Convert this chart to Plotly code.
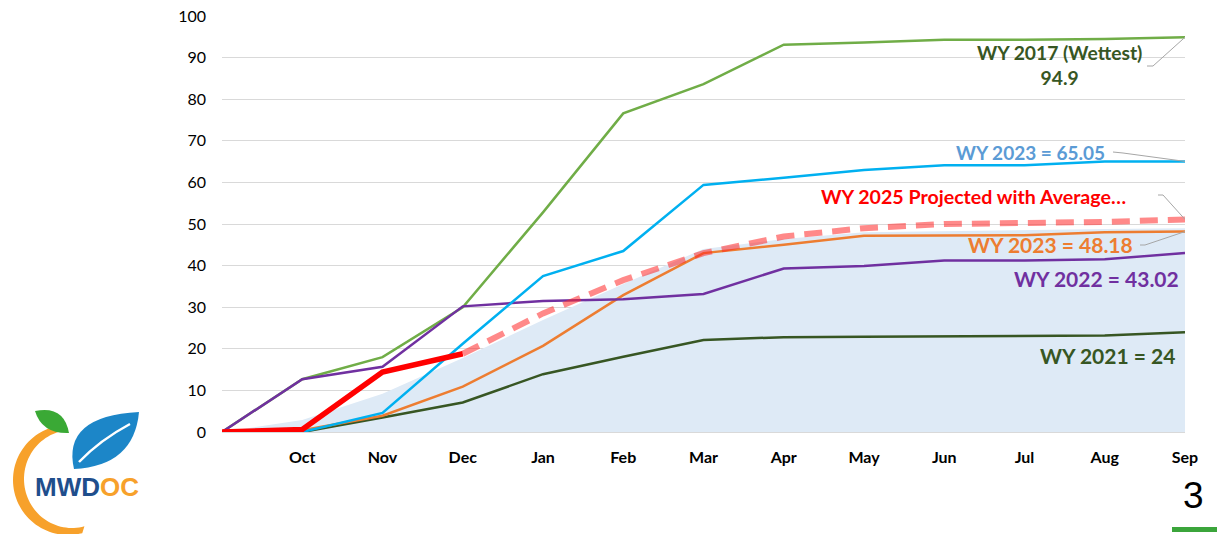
import numpy as np
import plotly.graph_objects as go

# ---------------- data ----------------
months = ["", "Oct", "Nov", "Dec", "Jan", "Feb", "Mar", "Apr", "May", "Jun", "Jul", "Aug", "Sep"]
pos = list(range(len(months)))

avg_area = [0, 2.9, 9.2, 17.8, 26.9, 35.6, 44.0, 46.4, 48.0, 48.3, 48.5, 48.8, 49.0]
wy2021 = [0, 0, 3.5, 7.1, 13.9, 18.1, 22.1, 22.8, 22.9, 23.0, 23.1, 23.2, 24.0]
wy2023b = [0, 0.4, 3.9, 10.9, 20.7, 32.9, 43.0, 45.0, 47.2, 47.2, 47.3, 48.0, 48.18]
wy2022 = [0, 12.7, 15.7, 30.2, 31.5, 31.9, 33.2, 39.3, 39.9, 41.2, 41.2, 41.5, 43.02]
wy2023a = [0, 0, 4.6, 21.2, 37.5, 43.5, 59.4, 61.1, 63.0, 64.1, 64.1, 65.0, 65.05]
wy2017 = [0, 12.7, 18.0, 30.0, 52.8, 76.6, 83.6, 93.1, 93.6, 94.3, 94.3, 94.5, 94.9]
proj_pos = pos[3:]
wy2025_proj = [18.8, 28.5, 36.5, 43.0, 47.0, 49.0, 50.0, 50.2, 50.5, 51.1]
act_pos = pos[:4]
wy2025_act = [0, 0.6, 14.4, 18.8]

yticks = [0, 10, 20, 30, 40, 50, 60, 70, 80, 90, 100]

# ---------------- figure ----------------
fig = go.Figure()
fig.add_trace(go.Scatter(x=pos, y=avg_area, mode="lines", fill="tozeroy",
                         fillcolor="#DEEAF6", line=dict(width=0, color="#DEEAF6"),
                         hoverinfo="skip"))
fig.add_trace(go.Scatter(x=pos, y=wy2021, mode="lines", line=dict(color="#375623", width=2.5)))
fig.add_trace(go.Scatter(x=pos, y=wy2023b, mode="lines", line=dict(color="#ED7D31", width=2.5)))
fig.add_trace(go.Scatter(x=pos, y=wy2017, mode="lines", line=dict(color="#70AD47", width=2.5)))
fig.add_trace(go.Scatter(x=pos, y=wy2022, mode="lines", line=dict(color="#7030A0", width=2.5)))
fig.add_trace(go.Scatter(x=pos, y=wy2023a, mode="lines", line=dict(color="#00B0F0", width=2.5)))
fig.add_trace(go.Scatter(x=proj_pos, y=wy2025_proj, mode="lines",
                         line=dict(color="rgba(255,40,40,0.55)", width=6, dash="18px,10px")))
fig.add_trace(go.Scatter(x=act_pos, y=wy2025_act, mode="lines", line=dict(color="#FF0000", width=5.5)))

LBL = "Lato"
annots = [
    dict(text="<b>WY 2017 (Wettest)<br>94.9</b>", x=10.43, y=88.2, color="#375623", xanchor="center", align="center", size=19.3),
    dict(text="<b>WY 2023 = 65.05</b>", x=11.03, y=67.1, color="#5B9BD5", xanchor="right", align="right", size=19),
    dict(text="<b>WY 2025 Projected with Average…</b>", x=11.29, y=56.7, color="#FF0000", xanchor="right", align="right", size=19.6),
    dict(text="<b>WY 2023 = 48.18</b>", x=11.38, y=45.0, color="#ED7D31", xanchor="right", align="right", size=21),
    dict(text="<b>WY 2022 = 43.02</b>", x=11.95, y=36.8, color="#7030A0", xanchor="right", align="right", size=21),
    dict(text="<b>WY 2021 = 24</b>", x=11.9, y=18.5, color="#375623", xanchor="right", align="right", size=21),
]
for a in annots:
    fig.add_annotation(x=a["x"], y=a["y"], xref="x", yref="y", text=a["text"], showarrow=False,
                       xanchor=a["xanchor"], yanchor="middle", align=a["align"],
                       font=dict(family=LBL, size=a["size"], color=a["color"]))

# leader lines (pixel helpers -> data coords)
def dx(px):
    return (px - 222) / 80.25

def dy(py):
    return (432 - py) / 4.16

last = len(pos) - 1
leaders = [
    [(1147, 66), (1153, 66), (pos[last], wy2017[-1])],
    [(1113, 152), (1123, 153), (pos[last], wy2023a[-1])],
    [(1158, 195), (1163, 195), (pos[last], wy2025_proj[-1])],
    [(1140, 245), (1145, 245), (pos[last], wy2023b[-1])],
]
for pts in leaders:
    (p1, p2, end) = pts
    path = f"M {dx(p1[0])} {dy(p1[1])} L {dx(p2[0])} {dy(p2[1])} L {end[0]} {end[1]}"
    fig.add_shape(type="path", path=path, xref="x", yref="y",
                  line=dict(color="#A6A6A6", width=1))

# ---------------- logo (decoration) ----------------
def px2paper(px, py):
    return (px - 222) / 963, (432 - py) / 416

def ppath(points, close=True):
    s = ""
    for i, (x, y) in enumerate(points):
        X, Y = px2paper(x, y)
        s += ("M " if i == 0 else "L ") + f"{X:.5f} {Y:.5f} "
    return s + ("Z" if close else "")

# orange arc (crescent)
t_out = np.linspace(np.radians(98), np.radians(285), 60)
outer = [(68 + 55 * np.cos(t), 480 - 55 * np.sin(t)) for t in t_out]
t_in = t_out[::-1]
inner = [(72 + 48 * np.cos(t), 479 - 49 * np.sin(t)) for t in t_in]
fig.add_shape(type="path", path=ppath(outer + inner), xref="paper", yref="paper",
              fillcolor="#F7A12B", line=dict(width=0), layer="above")

def qpath(pts):
    (s, c1, e, c2) = pts
    S = px2paper(*s); C1 = px2paper(*c1); E = px2paper(*e); C2 = px2paper(*c2)
    return (f"M {S[0]:.5f} {S[1]:.5f} Q {C1[0]:.5f} {C1[1]:.5f} {E[0]:.5f} {E[1]:.5f} "
            f"Q {C2[0]:.5f} {C2[1]:.5f} {S[0]:.5f} {S[1]:.5f} Z")

# green leaf
fig.add_shape(type="path", path=qpath([(35, 411), (64, 405), (69, 433), (42, 434)]),
              xref="paper", yref="paper", fillcolor="#3AA935", line=dict(width=0), layer="above")
# blue leaf
fig.add_shape(type="path", path=qpath([(74, 469), (62, 416), (139, 412), (134, 466)]),
              xref="paper", yref="paper", fillcolor="#1C86C8", line=dict(width=0), layer="above")
vein = "M {} {} Q {} {} {} {}".format(*px2paper(79, 462), *px2paper(100, 440), *px2paper(130, 424))
fig.add_shape(type="path", path=vein, xref="paper", yref="paper",
              line=dict(color="white", width=2.5), layer="above")

lx, ly = px2paper(87, 487)
fig.add_annotation(x=lx, y=ly, xref="paper", yref="paper", showarrow=False,
                   xanchor="center", yanchor="middle",
                   text="<b><span style='color:#1F4E8C'>MWD</span><span style='color:#F7A12B'>OC</span></b>",
                   font=dict(family="Liberation Sans", size=26))

# page number and bar
nx, ny = px2paper(1193, 495)
fig.add_annotation(x=nx, y=ny, xref="paper", yref="paper", showarrow=False,
                   xanchor="center", yanchor="middle", text="3",
                   font=dict(family="Liberation Sans", size=37, color="#000000"))
b0 = px2paper(1172, 527); b1 = px2paper(1217, 532)
fig.add_shape(type="rect", x0=b0[0], y0=b0[1], x1=b1[0], y1=b1[1], xref="paper", yref="paper",
              fillcolor="#3BA53B", line=dict(width=0))

fig.update_layout(
    width=1219, height=534,
    margin=dict(l=222, r=34, t=16, b=102, autoexpand=False),
    paper_bgcolor="white", plot_bgcolor="white",
    showlegend=False,
    font=dict(family=LBL),
)
fig.update_xaxes(range=[0, 12], tickvals=pos, ticktext=months, showgrid=False,
                 zeroline=False, showline=False, ticks="",
                 tickfont=dict(family=LBL, size=16, color="#000000", weight="bold"),
                 ticklabelstandoff=14)
fig.update_yaxes(range=[0, 100], tickvals=yticks, showgrid=True, gridcolor="#D9D9D9", gridwidth=1,
                 zeroline=True, zerolinecolor="#D9D9D9", zerolinewidth=1, showline=False, ticks="",
                 tickfont=dict(family=LBL, size=16, color="#000000"),
                 ticklabelstandoff=15)

fig.write_html("out.html", config={"displayModeBar": False},
               post_script="document.body.style.margin='0px';document.body.style.overflow='hidden';")
